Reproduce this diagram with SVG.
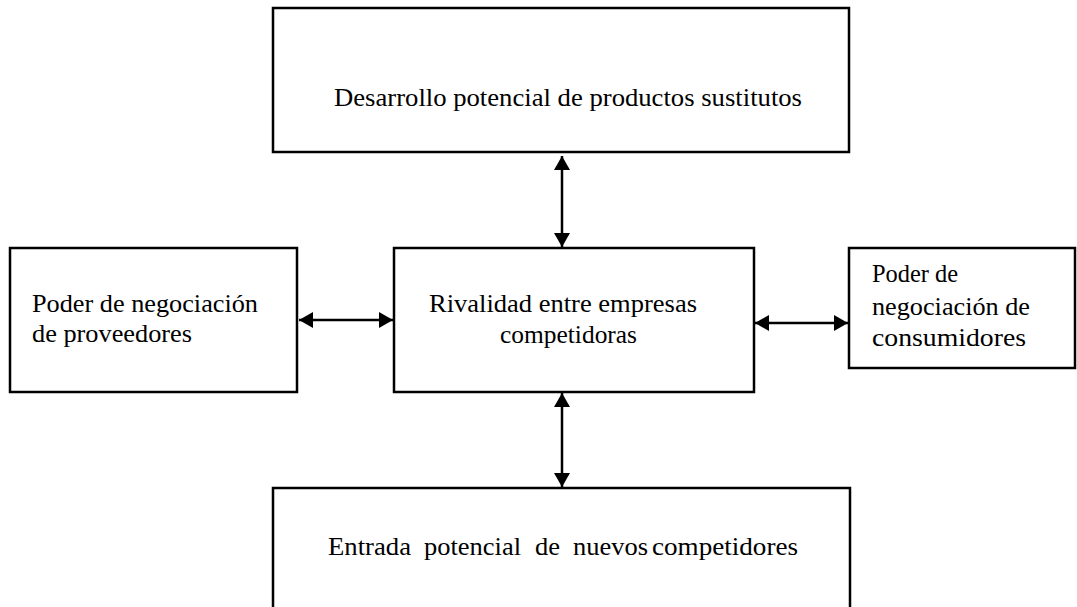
<svg xmlns="http://www.w3.org/2000/svg" width="1077" height="607" viewBox="0 0 1077 607">
<style>
.box{fill:#fff;stroke:#000;stroke-width:2.5}
.lbl{font-family:"Liberation Serif","Times New Roman",serif;font-size:25px;fill:#000}
.con{stroke:#000;stroke-width:2.5;fill:none;marker-start:url(#ah);marker-end:url(#ah)}
</style>
<defs>
<marker id="ah" markerUnits="userSpaceOnUse" markerWidth="15" markerHeight="16" refX="14" refY="8" orient="auto-start-reverse" viewBox="0 0 15 16">
<path d="M0,0 L14,8 L0,16 z" fill="#000"/>
</marker>
</defs>
<rect width="1077" height="607" fill="#fff"/>
<g id="connectors">
<line class="con" x1="562" y1="156" x2="562" y2="247"/>
<line class="con" x1="562" y1="393" x2="562" y2="487"/>
<line class="con" x1="299" y1="320" x2="393" y2="320"/>
<line class="con" x1="755" y1="323" x2="848" y2="323"/>
</g>
<g id="sustitutos">
<rect class="box" x="273" y="8" width="576" height="144"/>
<text class="lbl" x="334" y="106" textLength="468" lengthAdjust="spacingAndGlyphs">Desarrollo potencial de productos sustitutos</text>
</g>
<g id="proveedores">
<rect class="box" x="10" y="248" width="287" height="144"/>
<text class="lbl" x="32" y="312" textLength="226" lengthAdjust="spacingAndGlyphs">Poder de negociación</text>
<text class="lbl" x="32" y="342" textLength="160" lengthAdjust="spacingAndGlyphs">de proveedores</text>
</g>
<g id="rivalidad">
<rect class="box" x="394" y="248" width="360" height="144"/>
<text class="lbl" x="429" y="312" textLength="268" lengthAdjust="spacingAndGlyphs">Rivalidad entre empresas</text>
<text class="lbl" x="500" y="343" textLength="137" lengthAdjust="spacingAndGlyphs">competidoras</text>
</g>
<g id="consumidores">
<rect class="box" x="849" y="248" width="226" height="120"/>
<text class="lbl" x="872" y="282" textLength="86" lengthAdjust="spacingAndGlyphs">Poder de</text>
<text class="lbl" x="872" y="315" textLength="158" lengthAdjust="spacingAndGlyphs">negociación de</text>
<text class="lbl" x="872" y="346" textLength="154" lengthAdjust="spacingAndGlyphs">consumidores</text>
</g>
<g id="nuevos">
<rect class="box" x="273" y="488" width="577" height="140"/>
<text class="lbl" x="328" y="555" textLength="83" lengthAdjust="spacingAndGlyphs">Entrada</text>
<text class="lbl" x="424" y="555" textLength="97" lengthAdjust="spacingAndGlyphs">potencial</text>
<text class="lbl" x="535" y="555" textLength="25" lengthAdjust="spacingAndGlyphs">de</text>
<text class="lbl" x="573" y="555" textLength="75" lengthAdjust="spacingAndGlyphs">nuevos</text>
<text class="lbl" x="652" y="555" textLength="146" lengthAdjust="spacingAndGlyphs">competidores</text>
</g>
</svg>
